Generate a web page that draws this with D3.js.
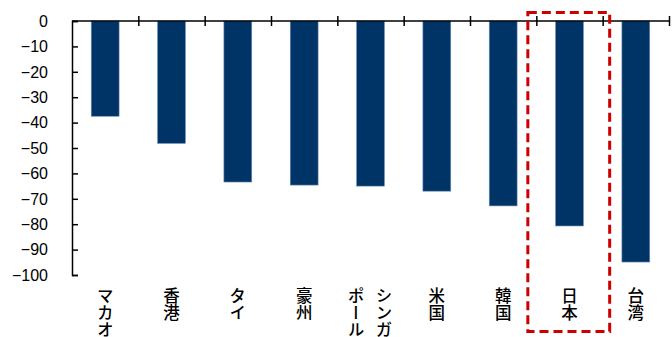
<!DOCTYPE html>
<html><head><meta charset="utf-8">
<script src="https://cdn.jsdelivr.net/npm/d3@7"></script>
<style>
html,body{margin:0;padding:0;background:#fff;}
svg{display:block;}
</style></head>
<body>
<script>
const categories = [["マカオ"],["香港"],["タイ"],["豪州"],["シンガ","ポール"],["米国"],["韓国"],["日本"],["台湾"]];
const values = [-37.5, -48.2, -63.4, -64.6, -65.0, -67.0, -72.8, -80.7, -94.9];
const yTicks = [0,-10,-20,-30,-40,-50,-60,-70,-80,-90,-100];
const highlight = "日本";

const W = 672, H = 337;
const svg = d3.select("body").append("svg").attr("width", W).attr("height", H);

const x = d3.scaleBand().domain(categories.map((d,i)=>i)).range([72, 669]).paddingInner(0.58).paddingOuter(0.29);
const xb = d3.scaleLinear().domain([0, categories.length]).range([72, 669]);
const y = d3.scaleLinear().domain([0, -100]).range([21, 275]);

// bars
svg.selectAll("rect.bar").data(values).enter().append("rect")
  .attr("class","bar")
  .attr("x",(d,i)=>x(i))
  .attr("width",x.bandwidth())
  .attr("y",y(0))
  .attr("height",d=>y(d)-y(0))
  .attr("fill","#003366")
  .attr("stroke","#6f8fb3").attr("stroke-width",0.6);

// y axis
const yAxis = d3.axisRight(y).tickValues(yTicks).tickSize(6).tickFormat("");
const gy = svg.append("g").attr("transform","translate(72,0)").call(yAxis);
gy.select(".domain").attr("stroke","#000").attr("stroke-width",1.5);
gy.selectAll(".tick line").attr("stroke","#000").attr("stroke-width",1.5);
svg.append("g").selectAll("text").data(yTicks).enter().append("text")
  .attr("x",48).attr("y",d=>y(d)).attr("dy","0.36em")
  .attr("text-anchor","end")
  .attr("font-family","'Liberation Sans', Arial, sans-serif").attr("font-size",16)
  .text(d=>d<0 ? "\u2212"+Math.abs(d) : d);

// x axis at zero
const xAxis = d3.axisBottom(xb).tickValues(d3.range(categories.length+1)).tickSize(5).tickFormat("");
const gx = svg.append("g").attr("transform",`translate(0,${y(0)})`).call(xAxis);
gx.select(".domain").attr("stroke","#000").attr("stroke-width",1.5).attr("d",`M72,0H669`);
gx.selectAll(".tick line").attr("stroke","#000").attr("stroke-width",1.5).attr("y1",-5).attr("y2",5);
gx.selectAll(".tick").filter((d)=>d===0).remove();

// category labels (vertical)
const lab = svg.append("g");
categories.forEach((cols,i)=>{
  const cx = x(i)+x.bandwidth()/2;
  const n = cols.length;
  cols.forEach((txt,j)=>{
    const off = n===1 ? 0 : (j===0 ? 13.5 : -14.5);
    lab.append("text")
      .attr("transform",`translate(${cx+off},287)`)
      .attr("style","writing-mode:vertical-rl;")
      .attr("font-family","'Noto Sans CJK JP', sans-serif")
      .attr("font-size",16.5).attr("font-weight",500).attr("letter-spacing",0.5)
      .attr("fill","#000")
      .text(txt);
  });
});

// highlight box
const hi = categories.findIndex(c=>c[0]===highlight);
const bx0 = xb(hi)-8.5, bx1 = xb(hi+1)+7;
svg.append("rect").attr("x",bx0).attr("y",12.5).attr("width",bx1-bx0).attr("height",319)
  .attr("fill","none").attr("stroke","#cc0000").attr("stroke-width",3)
  .attr("stroke-dasharray","9,5");
</script>
</body></html>
